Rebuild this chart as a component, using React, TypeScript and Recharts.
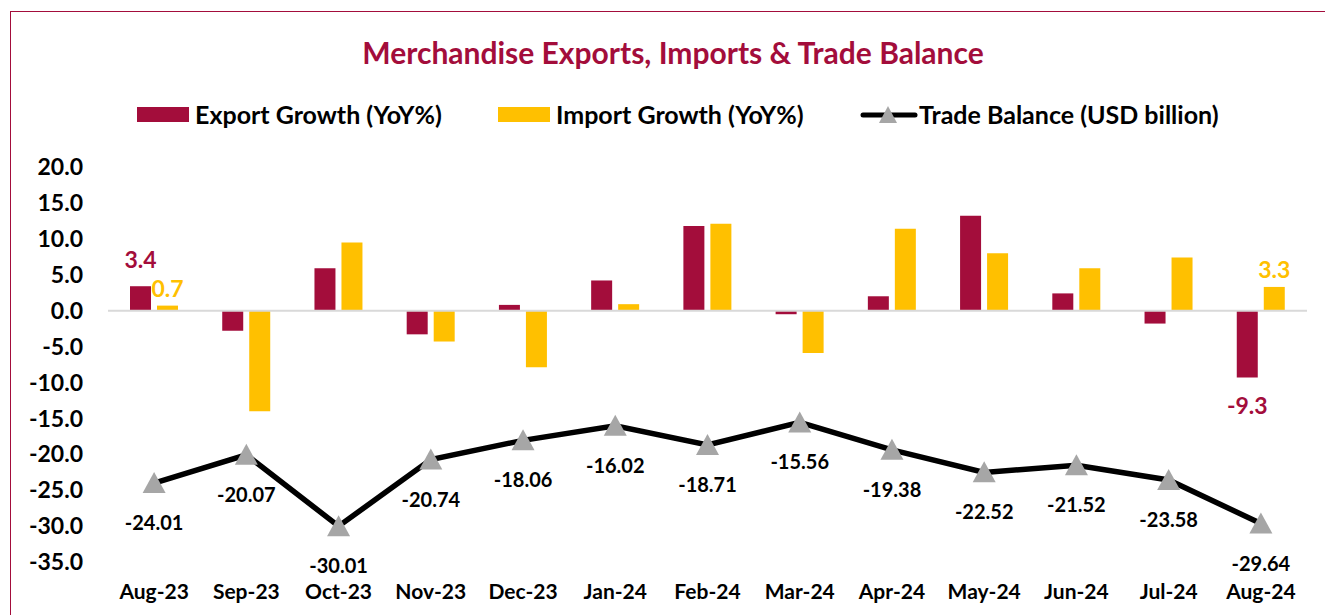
import {
  ComposedChart,
  Bar,
  Line,
  XAxis,
  YAxis,
  ReferenceLine,
  LabelList
} from "recharts"

const months = [
  "Aug-23", "Sep-23", "Oct-23", "Nov-23", "Dec-23", "Jan-24", "Feb-24",
  "Mar-24", "Apr-24", "May-24", "Jun-24", "Jul-24", "Aug-24"
]

const exportGrowth = [3.4, -2.8, 5.9, -3.3, 0.8, 4.2, 11.8, -0.5, 2.0, 13.2, 2.4, -1.8, -9.3]

const importGrowth = [0.7, -14.0, 9.5, -4.3, -7.9, 0.9, 12.1, -5.9, 11.4, 8.0, 5.9, 7.4, 3.3]

const tradeBalance = [
  -24.01, -20.07, -30.01, -20.74, -18.06, -16.02, -18.71,
  -15.56, -19.38, -22.52, -21.52, -23.58, -29.64
]

const yTicks = [20, 15, 10, 5, 0, -5, -10, -15, -20, -25, -30, -35]

const data = months.map((m, i) => ({
  month: m,
  exp: exportGrowth[i],
  imp: importGrowth[i],
  bal: tradeBalance[i]
}))

const CRIMSON = "#A30D3B"
const GOLD = "#FFC000"
const GREY = "#A6A6A6"
const FONT = "Lato, 'Noto Sans', sans-serif"

const last = months.length - 1

// only first and last bars carry a label, like the original
function edgeLabel(color: string, upOffset: number, downOffset: number, size: number) {
  return (props: any) => {
    const { x, y, width, height, value, index } = props
    if (index !== 0 && index !== last) return null
    const cx = Number(x) + Number(width) / 2
    const neg = Number(value) < 0
    const top = Math.min(Number(y), Number(y) + Number(height))
    const bottom = Math.max(Number(y), Number(y) + Number(height))
    const ty = neg ? bottom + downOffset : top - upOffset
    return (
      <text
        x={cx}
        y={ty}
        textAnchor="middle"
        dominantBaseline="central"
        fill={color}
        fontSize={size}
        fontWeight={700}
        fontFamily={FONT}
      >
        {Number(value).toFixed(1)}
      </text>
    )
  }
}

function balanceLabel(props: any) {
  const { x, y, value } = props
  return (
    <text
      x={x}
      y={Number(y) + 39}
      textAnchor="middle"
      dominantBaseline="central"
      fill="#000"
      fontSize={20}
      fontWeight={700}
      fontFamily={FONT}
    >
      {Number(value).toFixed(2)}
    </text>
  )
}

function Triangle(props: any) {
  const { cx, cy, index } = props
  if (cx == null || cy == null) return null
  return (
    <path
      key={"tri" + index}
      d={`M${cx},${cy - 11} L${cx + 11.5},${cy + 10} L${cx - 11.5},${cy + 10} Z`}
      fill={GREY}
    />
  )
}

export default function App() {
  return (
    <div
      style={{
        position: "absolute",
        left: 0,
        top: 0,
        width: 1325,
        height: 615,
        background: "#fff",
        overflow: "hidden",
        fontFamily: FONT
      }}
    >
      <div
        style={{
          position: "absolute",
          left: 10,
          top: 11,
          width: 1330,
          height: 620,
          border: `1.5px solid ${CRIMSON}`,
          boxSizing: "border-box"
        }}
      />

      <div
        style={{
          position: "absolute",
          left: 0,
          width: 1346,
          top: 33,
          textAlign: "center",
          color: CRIMSON,
          fontSize: 30,
          fontWeight: 700,
          lineHeight: "38px"
        }}
      >
        Merchandise Exports, Imports &amp; Trade Balance
      </div>

      <div
        style={{
          position: "absolute",
          top: 100,
          left: 137,
          height: 28,
          display: "flex",
          alignItems: "center",
          fontSize: 25,
          fontWeight: 700,
          color: "#000",
          whiteSpace: "nowrap"
        }}
      >
        <span style={{ width: 52, height: 15, background: CRIMSON, display: "inline-block" }} />
        <span style={{ marginLeft: 6, width: 303 }}>Export Growth (YoY%)</span>
        <span style={{ width: 52, height: 15, background: GOLD, display: "inline-block" }} />
        <span style={{ marginLeft: 6, width: 304 }}>Import Growth (YoY%)</span>
        <svg width={58} height={20} style={{ display: "inline-block" }}>
          <line x1={3} y1={11} x2={55} y2={11} stroke="#000" strokeWidth={5} strokeLinecap="round" />
          <path d="M28,2 L37,19 L19,19 Z" fill={GREY} />
        </svg>
        <span style={{ marginLeft: 1 }}>Trade Balance (USD billion)</span>
      </div>

      <div style={{ position: "absolute", left: 0, top: 0 }}>
        <ComposedChart
          width={1325}
          height={615}
          data={data}
          margin={{ top: 167, right: 18, bottom: 0, left: 0 }}
          barSize={21}
          barGap={6}
        >
          <XAxis
            dataKey="month"
            axisLine={false}
            tickLine={false}
            tickSize={0}
            tickMargin={22}
            height={53}
            interval={0}
            tick={{ fill: "#000", fontSize: 21, fontWeight: 700, fontFamily: FONT }}
          />
          <YAxis
            domain={[-35, 20]}
            ticks={yTicks}
            interval={0}
            axisLine={false}
            tickLine={false}
            tickSize={0}
            tickMargin={25}
            width={108}
            tickFormatter={(v: number) => v.toFixed(1)}
            tick={{ fill: "#000", fontSize: 23, fontWeight: 700, fontFamily: FONT }}
          />
          <ReferenceLine y={0} stroke="#D9D9D9" strokeWidth={2} />
          <Bar dataKey="exp" fill={CRIMSON} isAnimationActive={false}>
            <LabelList dataKey="exp" content={edgeLabel(CRIMSON, 27, 28, 23)} />
          </Bar>
          <Bar dataKey="imp" fill={GOLD} isAnimationActive={false}>
            <LabelList dataKey="imp" content={edgeLabel(GOLD, 18, 20, 23)} />
          </Bar>
          <Line
            dataKey="bal"
            type="linear"
            stroke="#000"
            strokeWidth={5.5}
            dot={Triangle}
            activeDot={false}
            isAnimationActive={false}
          >
            <LabelList dataKey="bal" content={balanceLabel} />
          </Line>
        </ComposedChart>
      </div>
    </div>
  )
}
